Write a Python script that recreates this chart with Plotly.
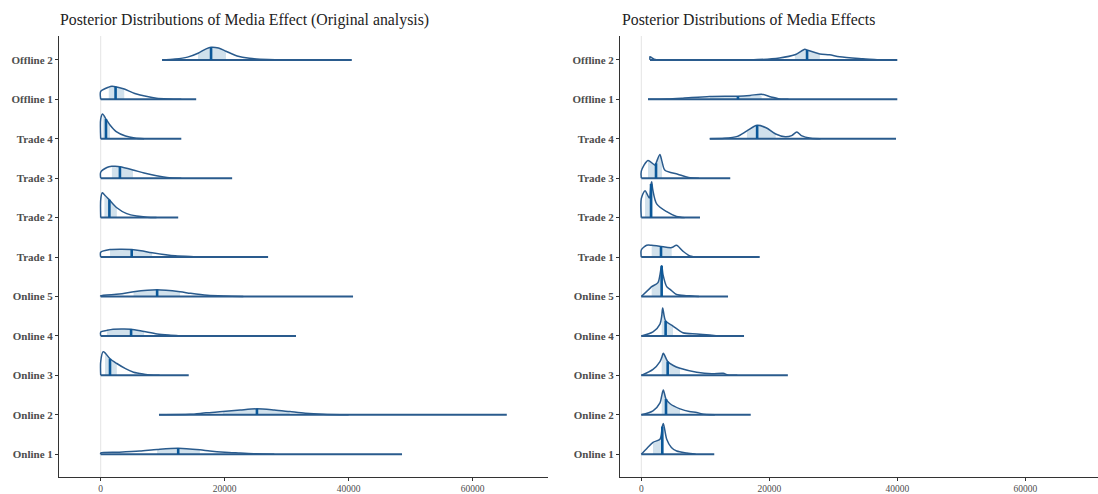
import plotly.graph_objects as go

# Parameters, bottom row first
ROWS = ["Online 1", "Online 2", "Online 3", "Online 4", "Online 5",
        "Trade 1", "Trade 2", "Trade 3", "Trade 4", "Offline 1", "Offline 2"]
X_TICKS = [0, 20000, 40000, 60000]
X_TICK_TEXT = ["0", "20000", "40000", "60000"]

TITLE_ORIG = "Posterior Distributions of Media Effect (Original analysis)"
TITLE_NEW = "Posterior Distributions of Media Effects"

# ---- Original analysis: draw range, 50% interval, median ----
orig_min = [0, 9400, 0, 0, 0, 0, 0, 0, 0, 0, 9900]
orig_max = [48600, 65500, 14200, 31500, 40700, 27000, 12500, 21200, 13000, 15400, 40500]
orig_lo = [9100, 19700, 700, 1000, 5300, 1500, 600, 1800, 300, 1300, 15700]
orig_med = [12500, 25200, 1500, 4900, 9100, 5000, 1400, 3100, 850, 2400, 17800]
orig_hi = [16000, 30500, 2600, 7000, 12800, 8300, 2600, 5200, 1500, 3800, 20200]

# density knots (value) and scaled density (fraction of row spacing)
orig_x = [
    [0, 3000, 6300, 9100, 12500, 16000, 17600, 20000, 22500, 25000, 28000],
    [9400, 14400, 17000, 19700, 22500, 25200, 28000, 30500, 33000, 35900, 40000],
    [0, 400, 700, 1500, 2600, 4000, 5300, 7000, 8000, 9500],
    [0, 1000, 2000, 3500, 4900, 7000, 9100, 11000, 12800],
    [0, 3000, 5300, 9100, 12800, 14500, 17200, 20000, 23000],
    [0, 1500, 3400, 5000, 6500, 8300, 12000, 15000, 18000],
    [0, 250, 600, 1400, 2600, 4200, 5800, 7500, 9000],
    [0, 1000, 1800, 2300, 3100, 5200, 7000, 9000, 10700, 13000],
    [0, 300, 850, 1500, 2500, 4000, 5500, 7000],
    [0, 1300, 1800, 2400, 3800, 5500, 7500, 9000, 11000, 13000],
    [9900, 12000, 14000, 15700, 17000, 17800, 19000, 20200, 22000, 24000, 27000, 30000],
]
orig_h = [
    [0.03, 0.05, 0.08, 0.12, 0.15, 0.11, 0.08, 0.05, 0.03, 0.01, 0.0],
    [0.0, 0.01, 0.05, 0.08, 0.12, 0.15, 0.12, 0.08, 0.04, 0.015, 0.0],
    [0.35, 0.6, 0.57, 0.42, 0.3, 0.17, 0.08, 0.03, 0.01, 0.0],
    [0.1, 0.14, 0.17, 0.175, 0.17, 0.11, 0.05, 0.02, 0.0],
    [0.02, 0.06, 0.12, 0.17, 0.12, 0.08, 0.03, 0.01, 0.0],
    [0.12, 0.19, 0.2, 0.19, 0.16, 0.11, 0.03, 0.01, 0.0],
    [0.45, 0.63, 0.58, 0.45, 0.25, 0.1, 0.04, 0.01, 0.0],
    [0.15, 0.27, 0.3, 0.3, 0.29, 0.21, 0.13, 0.06, 0.02, 0.0],
    [0.5, 0.63, 0.5, 0.35, 0.18, 0.07, 0.02, 0.0],
    [0.2, 0.31, 0.33, 0.32, 0.26, 0.15, 0.07, 0.03, 0.01, 0.0],
    [0.0, 0.02, 0.07, 0.17, 0.28, 0.32, 0.3, 0.22, 0.1, 0.04, 0.01, 0.0],
]

# ---- Updated model ----
new_min = [0, 0, 0, 0, 0, 0, 0, 0, 10700, 1050, 1360]
new_max = [11400, 17100, 22900, 16050, 13550, 18500, 9170, 13900, 39800, 40000, 40000]
new_lo = [1830, 3190, 3190, 3190, 1620, 1620, 580, 1050, 16500, 10700, 24000]
new_med = [3280, 3860, 4120, 3800, 3180, 3080, 1520, 2300, 18100, 15100, 25900]
new_hi = [3440, 6050, 6050, 4950, 3400, 4750, 1780, 3240, 21000, 18800, 27900]

new_x = [
    [0, 900, 1830, 2920, 3280, 3440, 3970, 4700, 5530, 7100, 8500],
    [0, 1830, 2920, 3190, 3440, 3860, 4500, 6050, 7500, 8660, 9500, 11500],
    [0, 1830, 2920, 3190, 3440, 4120, 5000, 6050, 8660, 11000, 12800, 13500, 15000],
    [0, 1830, 2920, 3190, 3340, 3800, 4950, 6500, 8660, 10700, 12000],
    [0, 1300, 1620, 2600, 3180, 3400, 3970, 4500, 5500, 7000, 8000, 9000],
    [0, 840, 1620, 2600, 3080, 4750, 5500, 6500, 7600, 9000],
    [0, 580, 1250, 1520, 1620, 1780, 2400, 3970, 5500, 6800],
    [0, 1050, 2140, 2300, 2900, 3240, 3700, 5700, 7600, 9000],
    [10700, 13000, 15000, 16500, 18100, 19500, 21000, 22500, 23500, 24300, 25000, 26500, 28000],
    [1050, 4000, 6500, 10700, 15100, 17000, 18800, 20300, 21600, 23000],
    [1360, 2000, 3000, 17000, 21600, 24000, 25550, 25900, 27900, 29400, 31000, 34600, 37300],
]
new_h = [
    [0.0, 0.15, 0.3, 0.38, 0.7, 0.78, 0.38, 0.17, 0.08, 0.03, 0.0],
    [0.0, 0.1, 0.3, 0.48, 0.63, 0.4, 0.28, 0.15, 0.08, 0.06, 0.02, 0.0],
    [0.0, 0.15, 0.35, 0.45, 0.56, 0.35, 0.25, 0.18, 0.08, 0.04, 0.05, 0.01, 0.0],
    [0.0, 0.1, 0.3, 0.5, 0.71, 0.38, 0.25, 0.08, 0.05, 0.02, 0.0],
    [0.0, 0.2, 0.25, 0.35, 0.78, 0.55, 0.25, 0.18, 0.05, 0.02, 0.015, 0.0],
    [0.18, 0.3, 0.3, 0.28, 0.27, 0.24, 0.3, 0.15, 0.03, 0.0],
    [0.48, 0.68, 0.5, 0.85, 0.91, 0.72, 0.35, 0.15, 0.03, 0.0],
    [0.18, 0.45, 0.33, 0.38, 0.6, 0.42, 0.2, 0.1, 0.01, 0.0],
    [0.0, 0.01, 0.06, 0.2, 0.34, 0.28, 0.12, 0.05, 0.08, 0.17, 0.08, 0.01, 0.0],
    [0.0, 0.01, 0.03, 0.07, 0.08, 0.1, 0.13, 0.06, 0.01, 0.0],
    [0.08, 0.02, 0.0, 0.0, 0.05, 0.13, 0.27, 0.25, 0.15, 0.13, 0.08, 0.03, 0.0],
]

FILL = "#d1e1ec"
OUTLINE = "#2a5b8d"
MEDIAN = "#0b5899"
SERIF = "Liberation Serif"

fig = go.Figure()


def add_panel(xa, ya, mins, maxs, los, meds, his, xs, hs):
    for i in range(len(ROWS)):
        y0 = i + 1
        kx, kh = xs[i], hs[i]
        # shaded central interval
        a, b = kx.index(los[i]), kx.index(his[i])
        sx = kx[a:b + 1]
        sy = [y0 + v for v in kh[a:b + 1]]
        fig.add_trace(go.Scatter(x=sx, y=[y0] * len(sx), mode="lines",
                                 line=dict(width=0, color=FILL), hoverinfo="skip",
                                 showlegend=False, xaxis=xa, yaxis=ya))
        fig.add_trace(go.Scatter(x=sx, y=sy, mode="lines", fill="tonexty",
                                 fillcolor=FILL, line=dict(width=0, shape="spline", color=FILL),
                                 hoverinfo="skip", showlegend=False, xaxis=xa, yaxis=ya))
        # density outline
        ox = [kx[0]] + kx if kh[0] > 0 else list(kx)
        oy = ([y0] if kh[0] > 0 else []) + [y0 + v for v in kh]
        fig.add_trace(go.Scatter(x=ox, y=oy, mode="lines",
                                 line=dict(width=1.5, color=OUTLINE, shape="spline", smoothing=0.8),
                                 hoverinfo="skip", showlegend=False, xaxis=xa, yaxis=ya))
        # full range baseline
        fig.add_trace(go.Scatter(x=[mins[i], maxs[i]], y=[y0, y0], mode="lines",
                                 line=dict(width=2, color=OUTLINE),
                                 hoverinfo="skip", showlegend=False, xaxis=xa, yaxis=ya))
        # median
        m = kx.index(meds[i])
        fig.add_trace(go.Scatter(x=[meds[i], meds[i]], y=[y0, y0 + kh[m]], mode="lines",
                                 line=dict(width=2.6, color=MEDIAN),
                                 hoverinfo="skip", showlegend=False, xaxis=xa, yaxis=ya))


add_panel("x", "y", orig_min, orig_max, orig_lo, orig_med, orig_hi, orig_x, orig_h)
add_panel("x2", "y2", new_min, new_max, new_lo, new_med, new_hi, new_x, new_h)

W, H = 1098, 494
Y_DOM = [(H - 479) / H, (H - 36) / H]
Y_RANGE = [0.42, 11.61]

xcommon = dict(tickvals=X_TICKS, ticktext=X_TICK_TEXT, showgrid=False, zeroline=False,
               showline=True, linecolor="#333333", linewidth=1, ticks="outside",
               ticklen=3, tickcolor="#333333",
               tickfont=dict(family=SERIF, size=9.5, color="#4d4d4d"))
ycommon = dict(tickvals=list(range(1, len(ROWS) + 1)), ticktext=ROWS, range=Y_RANGE,
               domain=Y_DOM, showgrid=False, zeroline=False, showline=True,
               linecolor="#333333", linewidth=1, ticks="outside", ticklen=3,
               tickcolor="#333333",
               tickfont=dict(family=SERIF, size=11, color="#4d4d4d", weight="bold"))

fig.update_layout(
    width=W, height=H,
    margin=dict(l=0, r=0, t=0, b=0),
    paper_bgcolor="white", plot_bgcolor="white",
    xaxis=dict(domain=[59 / W, 548 / W], range=[-6726, 72145], anchor="y", **xcommon),
    yaxis=dict(anchor="x", **ycommon),
    xaxis2=dict(domain=[620 / W, 1.0], range=[-3328, 71359], anchor="y2", **xcommon),
    yaxis2=dict(anchor="x2", **ycommon),
    shapes=[
        dict(type="line", xref="x", yref="y", x0=0, x1=0, y0=Y_RANGE[0], y1=Y_RANGE[1],
             line=dict(color="#e4e4e4", width=1), layer="below"),
        dict(type="line", xref="x2", yref="y2", x0=0, x1=0, y0=Y_RANGE[0], y1=Y_RANGE[1],
             line=dict(color="#e4e4e4", width=1), layer="below"),
    ],
    annotations=[
        dict(text=TITLE_ORIG, xref="paper", yref="paper", x=58 / W, y=(H - 20) / H,
             xanchor="left", yanchor="middle", showarrow=False,
             font=dict(family=SERIF, size=15.8, color="#222222")),
        dict(text=TITLE_NEW, xref="paper", yref="paper", x=620 / W, y=(H - 20) / H,
             xanchor="left", yanchor="middle", showarrow=False,
             font=dict(family=SERIF, size=15.8, color="#222222")),
    ],
)

fig.write_html("out.html")
